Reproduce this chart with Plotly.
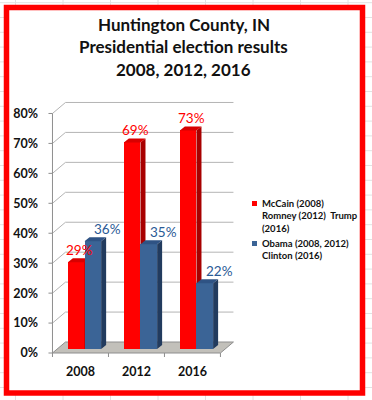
import plotly.graph_objects as go

# ---------------- data ----------------
years = ["2008", "2012", "2016"]
gop_share = [0.29, 0.69, 0.73]
dem_share = [0.36, 0.35, 0.22]
gop_label = "McCain (2008)<br>Romney (2012)\u00a0\u00a0Trump<br>(2016)"
dem_label = "Obama (2008, 2012)<br>Clinton (2016)"
y_tick_values = [0.0, 0.1, 0.2, 0.3, 0.4, 0.5, 0.6, 0.7, 0.8]
y_tick_labels = ["0%", "10%", "20%", "30%", "40%", "50%", "60%", "70%", "80%"]
title_lines = ["Huntington County, IN", "Presidential election results", "2008, 2012, 2016"]

# ---------------- geometry / style ----------------
W, H = 372, 400
L, R, T, B = 48, 137, 100, 41
PW, PH = W - L - R, H - T - B
XR = [-0.08, 3.26]
YR = [-0.02, 0.845]
ppx = PW / (XR[1] - XR[0])      # pixels per x unit
ppy = PH / (YR[1] - YR[0])      # pixels per y unit

wall_dx, wall_dy = 13 / ppx, 11 / ppy     # depth of the 3D box
bar_dx, bar_dy = 5 / ppx, 4 / ppy         # depth of each column
bar_base = 4 / ppy
bar_w = 0.297
gop_off, dem_off = 0.275, 0.572

RED, RED_SIDE, RED_TOP = "#FF0000", "#A80000", "#D80000"
BLUE, BLUE_SIDE, BLUE_TOP = "#3B6496", "#223B5E", "#2F5384"
BLUE_TXT = "#2A5A95"
GRID = "#B4B4B4"
FONT = "Lato"


def pxx(p):
    return (p - L) / PW


def pxy(p):
    return (H - B - p) / PH


fig = go.Figure()

# spreadsheet gridlines behind the chart object
shapes = []
for k in range(9):
    xv = 15.5 + 47.5 * k
    shapes.append(dict(type="line", xref="paper", yref="paper", x0=pxx(xv), x1=pxx(xv),
                       y0=pxy(0), y1=pxy(H), line=dict(color="#E2E2E2", width=1), layer="below"))
for k in range(28):
    yv = 2.7 + 14.8 * k
    shapes.append(dict(type="line", xref="paper", yref="paper", x0=pxx(0), x1=pxx(W),
                       y0=pxy(yv), y1=pxy(yv), line=dict(color="#E2E2E2", width=1), layer="below"))
# white chart area + red frame
shapes.append(dict(type="rect", xref="paper", yref="paper", x0=pxx(6.5), x1=pxx(362.5),
                   y0=pxy(393), y1=pxy(7.5), fillcolor="white", line=dict(width=0), layer="below"))
shapes.append(dict(type="rect", xref="paper", yref="paper", x0=pxx(6.5), x1=pxx(362.5),
                   y0=pxy(393), y1=pxy(7.5), line=dict(color="#FF0000", width=5.5)))

# floor
shapes.append(dict(type="path", xref="x", yref="y", layer="below",
                   path=f"M 0,0 L {len(years)},0 L {len(years)+wall_dx},{wall_dy} L {wall_dx},{wall_dy} Z",
                   fillcolor="#C2C0BA", line=dict(color="#8E8E8E", width=1)))
# back-wall gridlines with their diagonal returns
for v in y_tick_values[1:]:
    shapes.append(dict(type="line", xref="x", yref="y", layer="below", x0=0, y0=v,
                       x1=wall_dx, y1=v + wall_dy, line=dict(color=GRID, width=1)))
    shapes.append(dict(type="line", xref="x", yref="y", layer="below", x0=wall_dx, y0=v + wall_dy,
                       x1=len(years) + wall_dx, y1=v + wall_dy, line=dict(color=GRID, width=1)))
# front vertical axis line and tick marks
shapes.append(dict(type="line", xref="x", yref="y", layer="below", x0=0, y0=0, x1=0,
                   y1=y_tick_values[-1], line=dict(color="#8E8E8E", width=1)))
for v in y_tick_values:
    shapes.append(dict(type="line", xref="x", yref="y", layer="below", x0=-4 / ppx, y0=v,
                       x1=0, y1=v, line=dict(color="#8E8E8E", width=1)))
for i in range(len(years) + 1):
    shapes.append(dict(type="line", xref="x", yref="y", layer="below", x0=i, y0=0,
                       x1=i, y1=-4 / ppy, line=dict(color="#8E8E8E", width=1)))


def add_series(vals, off, front, side, top, xa, ya):
    xs = list(range(len(vals)))
    fig.add_trace(go.Bar(x=xs, y=vals, base=[bar_base] * len(vals), offset=off, width=bar_w,
                         marker=dict(color=front, line=dict(width=0)), showlegend=False,
                         hoverinfo="skip", xaxis=xa, yaxis=ya))
    sx, sy, tx, ty = [], [], [], []
    for i, v in enumerate(vals):
        xl, xr = i + off, i + off + bar_w
        yt = bar_base + v
        sx += [xr, xr + bar_dx, xr + bar_dx, xr, xr, None]
        sy += [bar_base, bar_base + bar_dy, yt + bar_dy, yt, bar_base, None]
        tx += [xl, xl + bar_dx, xr + bar_dx, xr, xl, None]
        ty += [yt, yt + bar_dy, yt + bar_dy, yt, yt, None]
    fig.add_trace(go.Scatter(x=sx, y=sy, fill="toself", fillcolor=side, mode="lines",
                             line=dict(width=0, color=side), showlegend=False, hoverinfo="skip",
                             xaxis=xa, yaxis=ya))
    fig.add_trace(go.Scatter(x=tx, y=ty, fill="toself", fillcolor=top, mode="lines",
                             line=dict(width=0, color=top), showlegend=False, hoverinfo="skip",
                             xaxis=xa, yaxis=ya))


add_series(gop_share, gop_off, RED, RED_SIDE, RED_TOP, "x", "y")
add_series(dem_share, dem_off, BLUE, BLUE_SIDE, BLUE_TOP, "x2", "y2")

annotations = []
# value labels
for i, v in enumerate(gop_share):
    annotations.append(dict(x=i + gop_off + bar_w / 2, y=bar_base + v, xref="x", yref="y",
                            text=f"{v:.0%}", showarrow=False, xshift=3, yshift=12,
                            font=dict(family=FONT, size=13.5, color=RED)))
for i, v in enumerate(dem_share):
    annotations.append(dict(x=i + dem_off + bar_w / 2, y=bar_base + v, xref="x", yref="y",
                            text=f"{v:.0%}", showarrow=False, xshift=15, yshift=12,
                            font=dict(family=FONT, size=13.5, color=BLUE_TXT)))
# title
for k, line in enumerate(title_lines):
    annotations.append(dict(x=pxx(183.5), y=pxy(25 + 22 * k), xref="paper", yref="paper",
                            text=f"<b>{line}</b>", showarrow=False, xanchor="center",
                            yanchor="middle", font=dict(family=FONT, size=17, color="#111111")))
# legend
for label, color, ytop in [(gop_label, RED, 201), (dem_label, BLUE, 241)]:
    shapes.append(dict(type="rect", xref="paper", yref="paper", x0=pxx(252), x1=pxx(257),
                       y0=pxy(ytop + 5), y1=pxy(ytop), fillcolor=color, line=dict(width=0)))
    annotations.append(dict(x=pxx(259.5), y=pxy(ytop - 5), xref="paper", yref="paper",
                            text=f"<b>{label}</b>", showarrow=False, xanchor="left",
                            yanchor="top", align="left",
                            font=dict(family=FONT, size=9.5, color="#111111")))

fig.update_layout(
    width=W, height=H,
    margin=dict(l=L, r=R, t=T, b=B, pad=0),
    paper_bgcolor="white", plot_bgcolor="rgba(0,0,0,0)",
    showlegend=False, bargap=0,
    shapes=shapes, annotations=annotations,
    xaxis=dict(range=XR, tickvals=[i + 0.5 for i in range(len(years))], ticktext=years,
               ticks="", showgrid=False, zeroline=False, showline=False, fixedrange=True,
               ticklabelstandoff=3,
               tickfont=dict(family=FONT, size=12.5, color="#111111", weight="bold")),
    yaxis=dict(range=YR, tickvals=y_tick_values, ticktext=y_tick_labels, ticks="",
               showgrid=False, zeroline=False, showline=False, fixedrange=True,
               ticklabelstandoff=9,
               tickfont=dict(family=FONT, size=12.5, color="#111111", weight="bold")),
    xaxis2=dict(range=XR, overlaying="x", visible=False, fixedrange=True),
    yaxis2=dict(range=YR, overlaying="y", visible=False, fixedrange=True),
)

fig.write_html("out.html", config={"displayModeBar": False},
               post_script="document.body.style.margin='0px';")
